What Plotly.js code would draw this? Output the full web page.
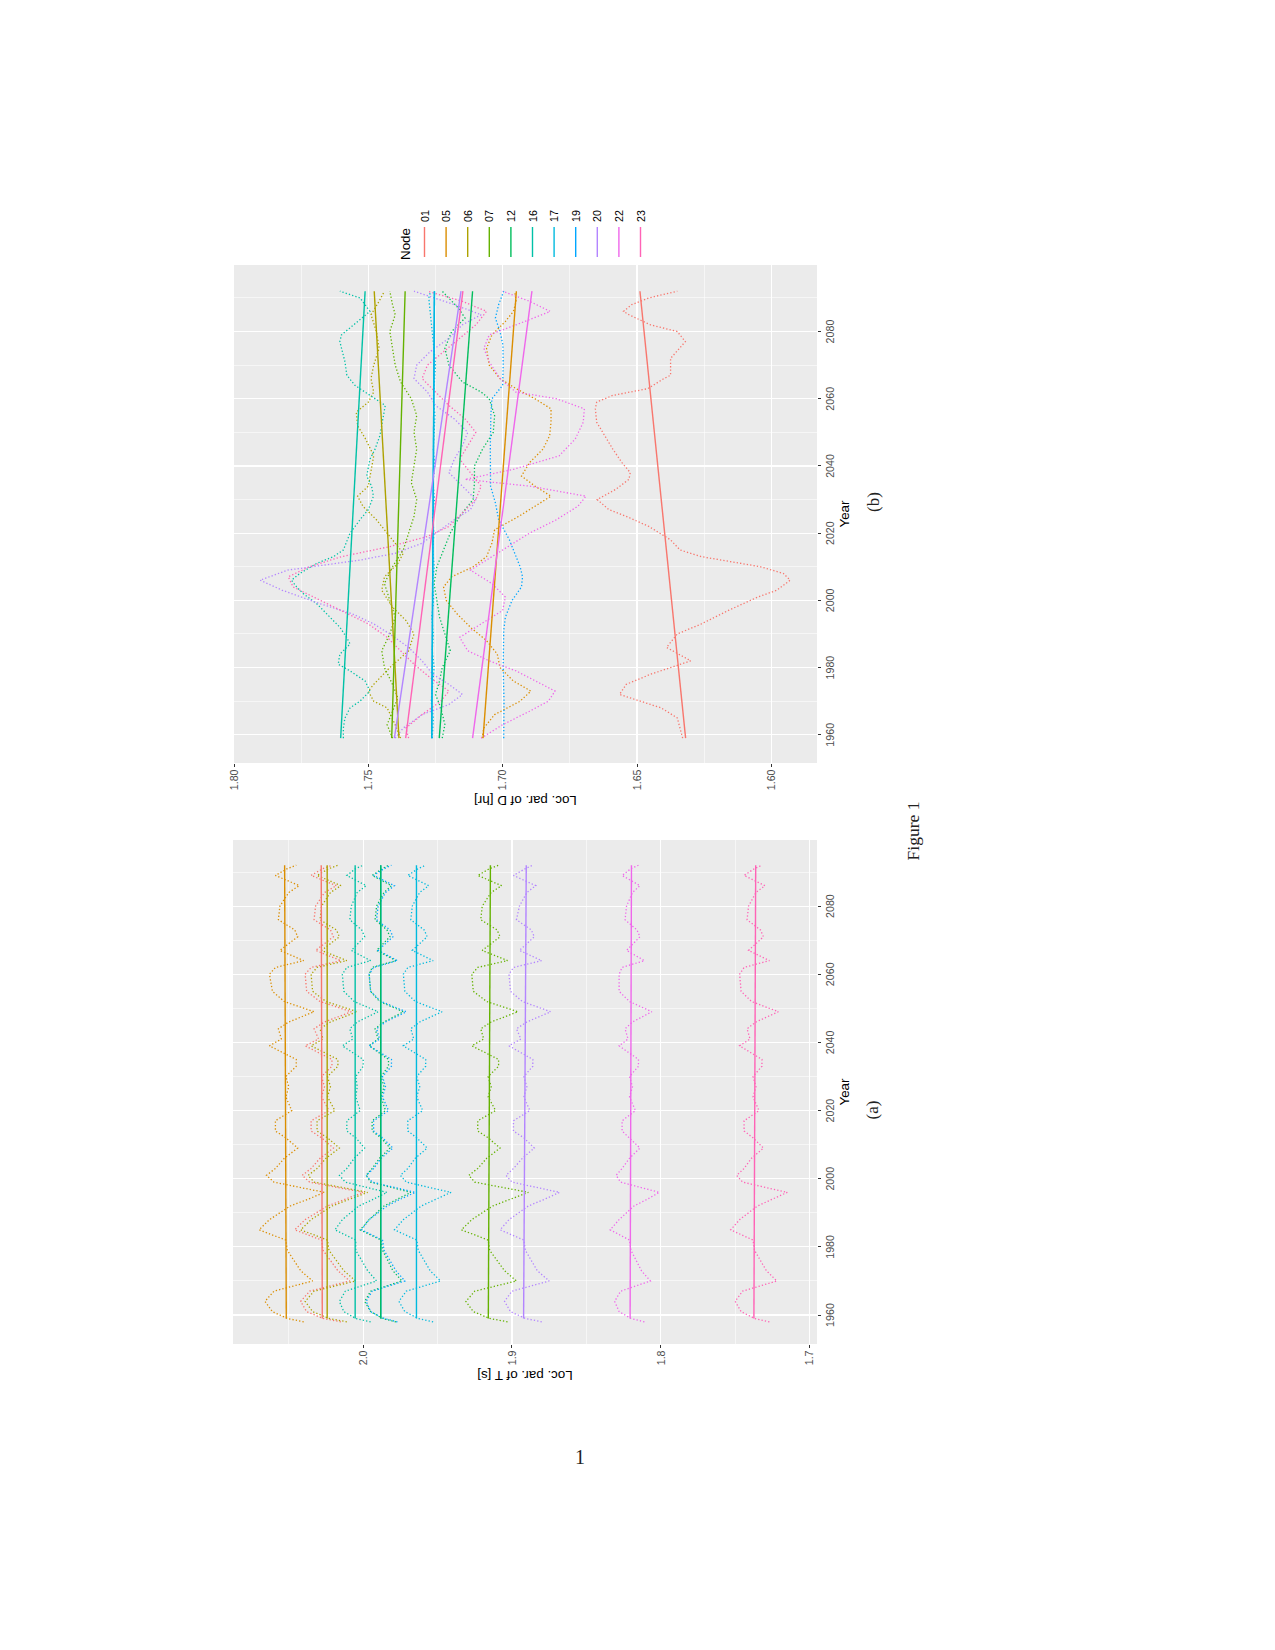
<!DOCTYPE html>
<html>
<head>
<meta charset="utf-8">
<script src="https://cdn.plot.ly/plotly-3.0.1.min.js"></script>
<style>
  html, body { margin:0; padding:0; background:#ffffff; }
  body { width:1275px; height:1650px; position:relative; overflow:hidden; }
  #land { position:absolute; left:200px; top:1400px; width:1240px; height:740px;
          transform-origin:0 0; transform:rotate(-90deg); }
  #pa { position:absolute; left:0px; top:0px; width:580px; height:680px; }
  #pb { position:absolute; left:580px; top:0px; width:660px; height:680px; }
  .cap { position:absolute; font-family:"Liberation Serif","DejaVu Serif",serif; color:#222;
         white-space:nowrap; transform:translate(-50%,-50%); }
  #pnum { position:absolute; left:580px; top:1457px; transform:translate(-50%,-50%);
          font-family:"Liberation Serif","DejaVu Serif",serif; font-size:20px; color:#222; }
</style>
</head>
<body>
<div id="land">
  <div id="pa"></div>
  <div id="pb"></div>
  <div class="cap" style="left:290px; top:673px; font-size:17px;">(a)</div>
  <div class="cap" style="left:898px; top:674px; font-size:17px;">(b)</div>
  <div class="cap" style="left:569px; top:713px; font-size:17.5px;">Figure 1</div>
</div>
<div id="pnum">1</div>
<script>
// ---------------- DATA ----------------
const nodes = ['01','05','06','07','12','16','17','19','20','22','23'];

// Panel (a): location parameter of T [s]
const yearsT = [1958,1959,1961,1964,1967,1970,1973,1979,1982,1985,1988,1992,1994,1996,1999,2001,2003,2006,2009,2012,2014,2017,2020,2024,2027,2030,2033,2035,2039,2041,2044,2046,2049,2050,2052,2055,2060,2062,2064,2067,2071,2073,2076,2080,2084,2086,2089,2091,2092];
const locT_01 = [2.015,2.027,2.038,2.042,2.036,2.009,2.017,2.027,2.028,2.046,2.039,2.024,2.012,2.000,2.036,2.041,2.035,2.029,2.020,2.028,2.035,2.035,2.023,2.028,2.026,2.028,2.021,2.021,2.039,2.030,2.033,2.026,2.008,2.015,2.029,2.038,2.039,2.035,2.015,2.032,2.020,2.022,2.033,2.032,2.026,2.018,2.035,2.027,2.021];
const locT_05 = [2.040,2.051,2.061,2.066,2.060,2.034,2.042,2.051,2.052,2.070,2.063,2.049,2.037,2.026,2.060,2.065,2.059,2.053,2.044,2.052,2.059,2.059,2.048,2.052,2.050,2.052,2.045,2.045,2.063,2.055,2.057,2.050,2.033,2.040,2.053,2.061,2.063,2.059,2.040,2.056,2.044,2.046,2.057,2.056,2.050,2.043,2.059,2.051,2.045];
const locT_06 = [2.011,2.023,2.034,2.039,2.033,2.005,2.013,2.023,2.024,2.042,2.035,2.021,2.009,1.997,2.033,2.037,2.031,2.025,2.016,2.024,2.031,2.031,2.019,2.024,2.022,2.024,2.017,2.017,2.035,2.027,2.029,2.022,2.004,2.011,2.025,2.034,2.035,2.031,2.011,2.028,2.016,2.018,2.029,2.028,2.022,2.015,2.031,2.023,2.017];
const locT_07 = [1.903,1.915,1.926,1.931,1.925,1.897,1.905,1.915,1.916,1.934,1.927,1.913,1.901,1.889,1.925,1.929,1.923,1.917,1.908,1.916,1.923,1.923,1.911,1.916,1.914,1.916,1.909,1.909,1.927,1.919,1.921,1.914,1.896,1.903,1.917,1.926,1.927,1.923,1.903,1.920,1.908,1.910,1.921,1.920,1.914,1.907,1.923,1.915,1.909];
const locT_12 = [1.978,1.987,1.995,1.999,1.995,1.974,1.980,1.987,1.988,2.002,1.996,1.986,1.977,1.968,1.995,1.998,1.994,1.989,1.982,1.988,1.994,1.994,1.985,1.988,1.986,1.988,1.983,1.983,1.996,1.990,1.992,1.986,1.973,1.978,1.989,1.995,1.996,1.994,1.978,1.991,1.982,1.984,1.992,1.991,1.986,1.981,1.994,1.987,1.983];
const locT_16 = [1.995,2.005,2.013,2.016,2.012,1.991,1.997,2.005,2.005,2.019,2.014,2.003,1.993,1.984,2.012,2.016,2.011,2.006,1.999,2.005,2.011,2.011,2.002,2.005,2.004,2.005,2.000,2.000,2.014,2.007,2.009,2.004,1.990,1.995,2.006,2.013,2.014,2.011,1.995,2.008,1.999,2.001,2.009,2.008,2.004,1.998,2.011,2.005,2.000];
const locT_17 = [1.953,1.963,1.972,1.976,1.971,1.948,1.955,1.963,1.964,1.979,1.973,1.961,1.951,1.941,1.971,1.975,1.970,1.965,1.957,1.964,1.970,1.970,1.960,1.964,1.962,1.964,1.958,1.958,1.973,1.966,1.968,1.962,1.947,1.953,1.965,1.972,1.973,1.970,1.953,1.967,1.957,1.959,1.968,1.967,1.962,1.956,1.970,1.963,1.958];
const locT_19 = [1.977,1.986,1.995,1.998,1.994,1.972,1.978,1.986,1.987,2.001,1.996,1.984,1.975,1.965,1.994,1.998,1.993,1.988,1.980,1.987,1.993,1.993,1.983,1.987,1.985,1.987,1.981,1.981,1.996,1.989,1.991,1.985,1.971,1.977,1.988,1.995,1.996,1.993,1.977,1.990,1.980,1.982,1.991,1.990,1.985,1.979,1.993,1.986,1.981];
const locT_20 = [1.880,1.891,1.901,1.905,1.900,1.875,1.883,1.891,1.892,1.908,1.902,1.889,1.878,1.868,1.900,1.904,1.899,1.893,1.885,1.892,1.899,1.899,1.888,1.892,1.890,1.892,1.886,1.886,1.902,1.894,1.897,1.890,1.874,1.880,1.893,1.901,1.902,1.899,1.880,1.895,1.885,1.887,1.897,1.895,1.890,1.884,1.899,1.891,1.886];
const locT_22 = [1.811,1.820,1.828,1.831,1.827,1.807,1.813,1.820,1.821,1.834,1.828,1.818,1.809,1.801,1.827,1.830,1.826,1.821,1.814,1.821,1.826,1.826,1.817,1.821,1.819,1.821,1.815,1.815,1.828,1.822,1.824,1.819,1.806,1.811,1.821,1.828,1.828,1.826,1.811,1.823,1.814,1.816,1.824,1.823,1.819,1.814,1.826,1.820,1.815];
const locT_23 = [1.727,1.737,1.746,1.750,1.745,1.722,1.729,1.737,1.738,1.753,1.747,1.735,1.725,1.715,1.745,1.749,1.744,1.739,1.731,1.738,1.744,1.744,1.734,1.738,1.736,1.738,1.732,1.732,1.747,1.740,1.742,1.736,1.721,1.727,1.739,1.746,1.747,1.744,1.727,1.741,1.731,1.733,1.742,1.741,1.736,1.730,1.744,1.737,1.732];
const trendYears = [1959, 2092];
const trendT_start = [2.0275,2.0517,2.0242,1.9159,1.9882,2.0054,1.9642,1.9882,1.8922,1.8206,1.7374];
const trendT_end   = [2.0282,2.0528,2.0242,1.9145,1.9882,2.0054,1.9642,1.9882,1.8904,1.8197,1.7362];

// Panel (b): location parameter of D [hr]
const yrsD_01 = [1959,1965,1968,1972,1975,1978,1982,1986,1990,1993,1997,2001,2003,2006,2008,2010,2013,2015,2018,2022,2025,2027,2030,2033,2036,2038,2041,2045,2049,2053,2057,2059,2061,2063,2066,2067,2072,2075,2077,2080,2082,2085,2086,2088,2090,2092];
const locD_01 = [1.633,1.635,1.641,1.6565,1.654,1.645,1.630,1.639,1.635,1.626,1.616,1.605,1.598,1.593,1.5955,1.604,1.626,1.634,1.6375,1.6456,1.654,1.6605,1.6648,1.658,1.653,1.6525,1.6556,1.659,1.662,1.665,1.6655,1.665,1.659,1.646,1.640,1.6375,1.6375,1.634,1.632,1.635,1.645,1.653,1.655,1.652,1.6456,1.635];
const yrsD_05 = [1959,1962,1966,1970,1973,1976,1980,1984,1988,1992,1996,2000,2004,2007,2010,2013,2017,2021,2025,2028,2031,2034,2037,2041,2045,2049,2053,2057,2060,2063,2066,2070,2075,2079,2083,2086,2089,2092];
const locD_05 = [1.7077,1.7070,1.7030,1.6935,1.6895,1.6960,1.7010,1.7020,1.7060,1.7120,1.7170,1.7210,1.7220,1.7190,1.7110,1.7060,1.7040,1.7030,1.6940,1.6880,1.6820,1.6880,1.6930,1.6900,1.6850,1.6825,1.6820,1.6820,1.6880,1.6950,1.7010,1.7050,1.7060,1.7040,1.6990,1.6960,1.6950,1.6955];
const yrsD_06 = [1959,1963,1968,1970,1973,1975,1980,1985,1990,1994,1998,2003,2007,2011,2014,2018,2021,2024,2028,2031,2034,2038,2043,2048,2052,2056,2059,2062,2066,2070,2075,2080,2085,2089,2092];
const locD_06 = [1.738,1.740,1.743,1.748,1.750,1.748,1.742,1.735,1.733,1.736,1.741,1.745,1.744,1.739,1.737,1.741,1.744,1.747,1.752,1.754,1.750,1.749,1.748,1.751,1.754,1.7545,1.750,1.748,1.749,1.748,1.746,1.747,1.749,1.746,1.744];
const yrsD_07 = [1959,1963,1967,1971,1975,1980,1985,1990,1995,2000,2005,2010,2015,2020,2025,2030,2035,2040,2045,2050,2055,2060,2065,2070,2075,2080,2085,2088,2092];
const locD_07 = [1.741,1.743,1.741,1.739,1.741,1.744,1.745,1.742,1.740,1.742,1.744,1.741,1.737,1.735,1.733,1.732,1.734,1.733,1.732,1.733,1.732,1.734,1.738,1.740,1.741,1.742,1.740,1.741,1.742];
const yrsD_12 = [1959,1963,1968,1972,1976,1980,1985,1990,1995,2000,2005,2010,2015,2020,2025,2030,2035,2040,2045,2050,2055,2060,2062,2065,2070,2075,2080,2084,2087,2090,2092];
const locD_12 = [1.7225,1.7215,1.7230,1.7250,1.7235,1.7225,1.7195,1.7215,1.7235,1.7245,1.7255,1.7245,1.7220,1.7195,1.7160,1.7110,1.7105,1.7105,1.7075,1.7035,1.7030,1.7050,1.7080,1.7150,1.7200,1.7215,1.7190,1.7140,1.7165,1.7200,1.7225];
const yrsD_16 = [1959,1962,1965,1968,1970,1973,1976,1979,1981,1984,1987,1989,1992,1995,1999,2002,2004,2006,2008,2011,2013,2015,2020,2024,2027,2031,2034,2037,2042,2045,2049,2058,2062,2064,2067,2071,2077,2079,2086,2090,2092];
const locD_16 = [1.7593,1.7593,1.7587,1.7568,1.7531,1.7494,1.7512,1.7568,1.7612,1.7606,1.7568,1.7581,1.7606,1.7643,1.7692,1.7742,1.7767,1.7786,1.7755,1.7692,1.7630,1.7593,1.7568,1.7531,1.7500,1.7481,1.7488,1.7506,1.7494,1.7475,1.7457,1.7437,1.7512,1.7550,1.7580,1.7587,1.7606,1.7600,1.7494,1.7531,1.7606];
const yrsD_17 = [1959,1965,1970,1975,1980,1985,1990,1995,2000,2005,2010,2015,2020,2025,2030,2035,2040,2045,2050,2055,2060,2065,2070,2075,2080,2085,2090,2092];
const locD_17 = [1.7262,1.7258,1.7266,1.7260,1.7255,1.7262,1.7258,1.7264,1.7257,1.7261,1.7255,1.7260,1.7256,1.7261,1.7254,1.7259,1.7253,1.7258,1.7255,1.7252,1.7258,1.7254,1.7250,1.7256,1.7262,1.7270,1.7275,1.7268];
const yrsD_19 = [1959,1970,1980,1991,1995,2000,2004,2007,2010,2018,2024,2029,2034,2045,2055,2060,2064,2070,2076,2080,2084,2088,2092];
const locD_19 = [1.6996,1.6995,1.6998,1.6996,1.6990,1.6965,1.6930,1.6926,1.6935,1.6975,1.7015,1.7027,1.7045,1.7046,1.7044,1.7040,1.7000,1.6998,1.6999,1.7010,1.7027,1.7015,1.6996];
const yrsD_20 = [1959,1962,1966,1969,1972,1975,1978,1982,1986,1990,1993,1996,1999,2003,2006,2009,2012,2014,2017,2020,2024,2027,2030,2034,2038,2042,2046,2050,2054,2058,2062,2066,2070,2074,2078,2082,2085,2088,2092];
const locD_20 = [1.7400,1.7370,1.7300,1.7200,1.7150,1.7200,1.7260,1.7300,1.7350,1.7420,1.7480,1.7560,1.7680,1.7820,1.7903,1.7800,1.7530,1.7400,1.7300,1.7250,1.7180,1.7120,1.7100,1.7150,1.7200,1.7180,1.7150,1.7130,1.7180,1.7250,1.7280,1.7330,1.7320,1.7270,1.7200,1.7150,1.7080,1.7180,1.7330];
const yrsD_22 = [1959,1963,1967,1970,1973,1976,1979,1982,1985,1989,1993,1997,2001,2005,2009,2012,2016,2020,2024,2028,2031,2034,2036,2039,2043,2048,2053,2057,2060,2062,2066,2071,2075,2079,2082,2086,2089,2092];
const locD_22 = [1.7080,1.7000,1.6900,1.6830,1.6805,1.6880,1.6950,1.7050,1.7130,1.7160,1.7080,1.7000,1.6990,1.7040,1.7120,1.7060,1.6980,1.6900,1.6800,1.6720,1.6690,1.6900,1.7140,1.6960,1.6790,1.6730,1.6700,1.6696,1.6800,1.6951,1.7010,1.7050,1.7070,1.7050,1.6950,1.6823,1.6900,1.7000];
const yrsD_23 = [1959,1962,1966,1970,1973,1977,1981,1985,1989,1993,1997,2001,2004,2007,2010,2013,2016,2019,2022,2026,2030,2034,2038,2042,2046,2050,2054,2058,2062,2066,2070,2074,2078,2082,2086,2089,2092];
const locD_23 = [1.7350,1.7360,1.7300,1.7230,1.7200,1.7270,1.7330,1.7380,1.7430,1.7500,1.7600,1.7700,1.7780,1.7798,1.7720,1.7600,1.7420,1.7280,1.7200,1.7150,1.7100,1.7080,1.7120,1.7160,1.7130,1.7100,1.7140,1.7200,1.7250,1.7300,1.7280,1.7220,1.7160,1.7100,1.7060,1.7150,1.7280];
const trendD_start = [1.6319,1.7073,1.7386,1.7413,1.7236,1.7603,1.7264,1.7264,1.7403,1.7112,1.7361];
const trendD_end   = [1.6489,1.6949,1.7478,1.7363,1.7112,1.7512,1.7254,1.7254,1.7155,1.6891,1.7148];

const yearTicks = [1960,1980,2000,2020,2040,2060,2080];
const yearMinor = [1970,1990,2010,2030,2050,2070,2090];
const tTicks = [1.7,1.8,1.9,2.0];
const tTickText = ['1.7','1.8','1.9','2.0'];
const tMinor = [1.75,1.85,1.95,2.05];
const dTicks = [1.60,1.65,1.70,1.75,1.80];
const dTickText = ['1.60','1.65','1.70','1.75','1.80'];
const dMinor = [1.625,1.675,1.725,1.775];

// ---------------- STYLE ----------------
const nodeColors = ['#F8766D','#DB8E00','#AEA200','#64B200','#00BD5C','#00C1A7','#00BADE','#00A6FF','#B385FF','#EF67EB','#FF63B6'];
const FONT = 'Liberation Sans, Arial, Helvetica, sans-serif';

const seriesT = {'01':locT_01,'05':locT_05,'06':locT_06,'07':locT_07,'12':locT_12,'16':locT_16,'17':locT_17,'19':locT_19,'20':locT_20,'22':locT_22,'23':locT_23};
const seriesD = {'01':[yrsD_01,locD_01],'05':[yrsD_05,locD_05],'06':[yrsD_06,locD_06],'07':[yrsD_07,locD_07],'12':[yrsD_12,locD_12],'16':[yrsD_16,locD_16],'17':[yrsD_17,locD_17],'19':[yrsD_19,locD_19],'20':[yrsD_20,locD_20],'22':[yrsD_22,locD_22],'23':[yrsD_23,locD_23]};

// trend order: node 19 first so the line hidden beneath in the reference stays underneath
const trendOrder = [7,0,1,2,3,4,5,6,8,9,10];

function buildTraces(getXY, tStart, tEnd, withLegend) {
  const traces = [];
  nodes.forEach((n, i) => {
    const xy = getXY(n);
    traces.push({
      type:'scatter', mode:'lines', x: xy[0], y: xy[1],
      line:{color:nodeColors[i], width:1.3, dash:'1.3px,2.1px'},
      legendgroup:n, showlegend:false, hoverinfo:'skip'
    });
  });
  trendOrder.forEach(i => {
    const n = nodes[i];
    traces.push({
      type:'scatter', mode:'lines', x: trendYears, y: [tStart[i], tEnd[i]],
      line:{color:nodeColors[i], width:1.4},
      name:n, legendgroup:n, legendrank: 100 + i,
      showlegend: withLegend, hoverinfo:'skip'
    });
  });
  return traces;
}

function xAxis(range) {
  return {
    range: range, tickmode:'array', tickvals: yearTicks, ticktext: yearTicks.map(String),
    ticks:'outside', ticklen:3.3, tickwidth:1, tickcolor:'#333333',
    tickfont:{family:FONT, size:10.7, color:'#4D4D4D'},
    showgrid:true, gridcolor:'#FFFFFF', gridwidth:1.1,
    zeroline:false, showline:false, automargin:false,
    minor:{tickmode:'array', tickvals: yearMinor, showgrid:true, gridcolor:'#FFFFFF', gridwidth:0.55, ticks:''},
    title:{text:'Year', font:{family:FONT, size:13.4, color:'#000000'}, standoff:4}
  };
}
function yAxis(range, vals, txt, minor, title) {
  return {
    range: range, tickmode:'array', tickvals: vals, ticktext: txt,
    ticks:'outside', ticklen:3.3, tickwidth:1, tickcolor:'#333333',
    tickfont:{family:FONT, size:10.7, color:'#4D4D4D'},
    showgrid:true, gridcolor:'#FFFFFF', gridwidth:1.1,
    zeroline:false, showline:false, automargin:false,
    minor:{tickmode:'array', tickvals: minor, showgrid:true, gridcolor:'#FFFFFF', gridwidth:0.55, ticks:''},
    title:{text:title, font:{family:FONT, size:13.4, color:'#000000'}, standoff:2}
  };
}

const tracesA = buildTraces(n => [yearsT, seriesT[n]], trendT_start, trendT_end, false);
const layoutA = {
  width:580, height:680,
  margin:{l:56, r:20, t:32.7, b:63.3, pad:0},
  paper_bgcolor:'rgba(0,0,0,0)', plot_bgcolor:'#EBEBEB',
  showlegend:false, font:{family:FONT},
  xaxis: xAxis([1951.5, 2099.4]),
  yaxis: yAxis([1.695, 2.0875], tTicks, tTickText, tMinor, 'Loc. par. of T [s]')
};

const tracesB = buildTraces(n => seriesD[n], trendD_start, trendD_end, true);
const layoutB = {
  width:660, height:680,
  margin:{l:57.4, r:105.4, t:34.1, b:63.3, pad:0},
  paper_bgcolor:'rgba(0,0,0,0)', plot_bgcolor:'#EBEBEB',
  showlegend:true, font:{family:FONT},
  legend:{x:1.006, xanchor:'left', y:0.728, yanchor:'top',
          title:{text:'Node', font:{family:FONT, size:13.4, color:'#000000'}},
          font:{family:FONT, size:10.7, color:'#000000'},
          itemwidth:30, tracegroupgap:2.6, bgcolor:'rgba(0,0,0,0)', traceorder:'grouped'},
  xaxis: xAxis([1951.6, 2099.8]),
  yaxis: yAxis([1.583, 1.800], dTicks, dTickText, dMinor, 'Loc. par. of D [hr]')
};

const cfg = {staticPlot:true, displayModeBar:false};
Plotly.newPlot('pa', tracesA, layoutA, cfg);
Plotly.newPlot('pb', tracesB, layoutB, cfg);
</script>
</body>
</html>
